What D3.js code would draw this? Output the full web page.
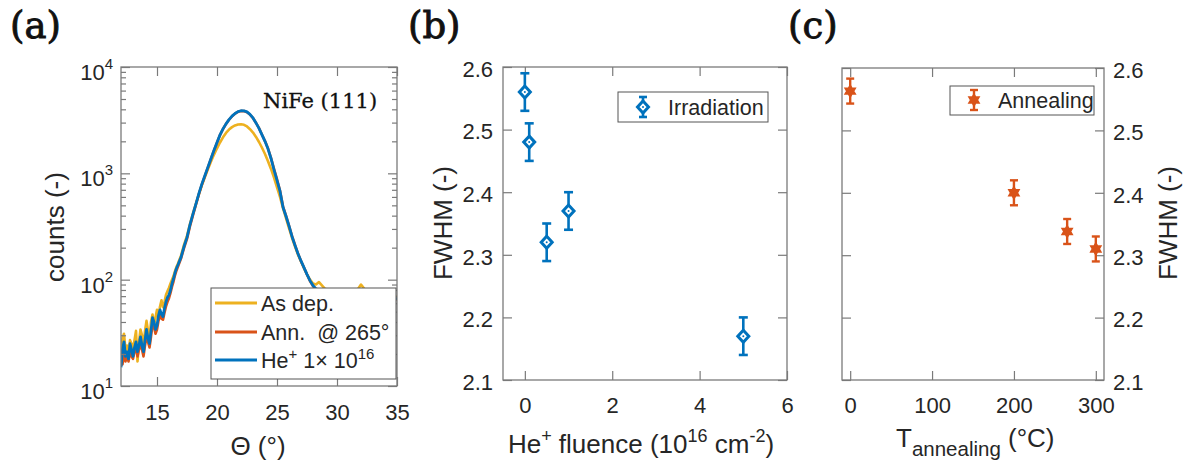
<!DOCTYPE html>
<html><head><meta charset="utf-8">
<script src="https://cdn.jsdelivr.net/npm/d3@7"></script>
<style>body{margin:0;background:#fff;} svg{display:block;font-family:"Liberation Sans",Arial,sans-serif;}</style>
</head><body>
<svg id="c" width="1187" height="465"></svg>
<script>
// ---------- Panel (a) data : XRD NiFe(111) ----------
const theta = [12,12.125,12.25,12.375,12.5,12.625,12.75,12.875,13,13.125,13.25,13.375,13.5,13.625,13.75,13.875,14,14.125,14.25,14.375,14.5,14.625,14.75,14.875,15,15.125,15.25,15.375,15.5,15.625,15.75,15.875,16,16.125,16.25,16.375,16.5,16.625,16.75,16.875,17,
17.25,17.5,17.75,18,18.25,18.5,18.75,19,19.25,19.5,19.75,20,20.25,20.5,20.75,21,21.25,21.5,21.75,22,22.25,22.5,22.75,23,23.25,23.5,23.75,24,24.25,24.5,24.75,25,25.25,25.5,25.75,26,26.25,26.5,26.75,27,27.25,27.5,27.75,28,28.25,28.5,
29,29.5,30,30.5,31,31.5,32,32.5,33,33.5,34,34.5,35];
const countsAsDep = [18,28,31,22,24,20,27,25,22,27,33,17,26,34,30,23,33,41,33,28,40,47,37,44,52,45,56,64,55,62,72,78,84,92,100,108,120,132,142,155,168,
212,258,335,420,520,640,780,930,1100,1290,1500,1720,1950,2180,2400,2580,2720,2820,2880,2890,2860,2760,2600,2420,2200,1970,1740,1520,1300,1100,910,740,600,470,380,305,248,205,172,148,128,112,100,92,90,95,
82,78,80,76,78,74,90,76,77,73,75,71,69];
const countsAnn = [17,16,21,17,19,17,21,19,18,21,23,19,22,25,22,19,24,29,26,23,29,38,36,31,34,41,47,43,42,49,56,62,67,75,86,96,110,122,133,145,158,
198,242,318,405,510,640,790,950,1140,1370,1640,1940,2290,2610,2910,3190,3440,3640,3790,3860,3850,3760,3570,3310,2980,2660,2310,2010,1710,1400,1100,880,690,490,400,322,258,212,176,150,130,112,97,87,81,79,
76,74,75,71,73,69,74,70,72,69,71,67,65];
const countsHe = [15,22,26,19,21,18,25,22,19,23,26,21,24,29,24,21,27,34,28,25,33,44,40,34,37,46,52,47,45,54,62,68,72,80,92,102,116,128,138,150,162,
205,250,330,415,520,650,800,960,1150,1380,1650,1950,2300,2620,2920,3200,3450,3650,3800,3880,3870,3780,3580,3320,2980,2650,2300,2000,1700,1380,1080,860,680,480,395,320,255,210,175,150,130,112,98,88,82,80,
77,75,76,72,74,70,75,71,73,70,72,68,66];
const xTicksA = [15,20,25,30,35];
const yTicksA = [10,100,1000,10000];
const yExpA = ["1","2","3","4"];

// ---------- Panel (b) data : irradiation ----------
const fluence = [0,0.1,0.5,1,5];
const fwhmIrr = [2.56,2.48,2.32,2.37,2.17];
const errIrr = [0.03,0.03,0.03,0.03,0.03];
const xTicksB = [0,2,4,6];

// ---------- Panel (c) data : annealing ----------
const tAnneal = [0,200,265,300];
const fwhmAnn = [2.563,2.40,2.338,2.31];
const errAnn = [0.02,0.02,0.02,0.02];
const xTicksC = [0,100,200,300];

const yTicksFWHM = [2.1,2.2,2.3,2.4,2.5,2.6];

// ---------- styles ----------
const AX = "#7a7a7a", TXT = "#262626";
const BLUE = "#0072BD", ORANGE = "#D95319", YELLOW = "#EDB120";
const FONT = "'Liberation Sans', Arial, sans-serif";
const SERIF = "'DejaVu Serif', 'Liberation Serif', serif";
const TICKFS = 22, LABFS = 26;

const svg = d3.select("#c");
svg.append("rect").attr("width",1187).attr("height",465).attr("fill","#fff");

function styleAxis(g){
  g.attr("font-size",TICKFS).attr("font-family",FONT);
  g.select(".domain").remove();
  g.selectAll(".tick line").attr("stroke",AX).attr("stroke-width",1.2);
  g.selectAll(".tick text").attr("fill",TXT);
}
function box(x0,x1,y0,y1){
  svg.append("rect").attr("x",x0).attr("y",y0).attr("width",x1-x0).attr("height",y1-y0)
    .attr("fill","none").attr("stroke",AX).attr("stroke-width",1.3);
}
function title(x,y,t){
  svg.append("text").attr("x",x).attr("y",y).attr("font-family",SERIF).attr("font-size",37)
    .attr("fill","#111").attr("stroke","#111").attr("stroke-width",0.9).text(t);
}

// ================= Panel (a) =================
const xA = d3.scaleLinear().domain([12,35]).range([121,397]);
const yA = d3.scaleLog().domain([10,1e4]).range([386,67]);
const minorA = yA.ticks().filter(v => !yTicksA.includes(v));

svg.append("clipPath").attr("id","clipA").append("rect").attr("x",121).attr("y",67).attr("width",276).attr("height",319);
const lineA = d3.line().x(d=>xA(d[0])).y(d=>yA(d[1]));
const seriesA = [
  {vals:countsAsDep, color:YELLOW, w:2.6},
  {vals:countsAnn, color:ORANGE, w:2.6},
  {vals:countsHe, color:BLUE, w:2.8}
];
const gCurves = svg.append("g").attr("clip-path","url(#clipA)");
seriesA.forEach(s=>{
  gCurves.append("path").datum(theta.map((t,i)=>[t,s.vals[i]]))
    .attr("d",lineA).attr("fill","none").attr("stroke",s.color)
    .attr("stroke-width",s.w).attr("stroke-linejoin","round");
});

svg.append("g").attr("transform","translate(0,386)")
  .call(d3.axisBottom(xA).tickValues(xTicksA).tickSize(-9).tickPadding(18).tickFormat(d3.format("d"))).call(styleAxis);
svg.append("g").attr("transform","translate(0,67)")
  .call(d3.axisTop(xA).tickValues(xTicksA).tickSize(-9).tickFormat(()=>"")).call(styleAxis);
svg.append("g").attr("transform","translate(121,0)")
  .call(d3.axisLeft(yA).tickValues(yTicksA).tickSize(-9).tickFormat(()=>"")).call(styleAxis);
svg.append("g").attr("transform","translate(121,0)")
  .call(d3.axisLeft(yA).tickValues(minorA).tickSize(-5).tickFormat(()=>"")).call(styleAxis);
svg.append("g").attr("transform","translate(397,0)")
  .call(d3.axisRight(yA).tickValues(yTicksA).tickSize(-9).tickFormat(()=>"")).call(styleAxis);
svg.append("g").attr("transform","translate(397,0)")
  .call(d3.axisRight(yA).tickValues(minorA).tickSize(-5).tickFormat(()=>"")).call(styleAxis);
box(121,397,67,386);

yTicksA.forEach((v,i)=>{
  const t = svg.append("text").attr("x",113).attr("y",yA(v)+13).attr("text-anchor","end")
    .attr("font-family",FONT).attr("font-size",TICKFS).attr("fill",TXT);
  t.append("tspan").text("10");
  t.append("tspan").attr("dy",-11).attr("font-size",15).text(yExpA[i]);
});

svg.append("text").attr("transform","translate(64,227) rotate(-90)").attr("text-anchor","middle")
  .attr("font-family",FONT).attr("font-size",LABFS).attr("fill",TXT).text("counts (-)");
svg.append("text").attr("x",258).attr("y",455).attr("text-anchor","middle")
  .attr("font-family",FONT).attr("font-size",LABFS).attr("fill",TXT).text("Θ (°)");

svg.append("text").attr("x",263).attr("y",108).attr("font-family",SERIF).attr("font-size",21)
  .attr("fill","#111").attr("stroke","#111").attr("stroke-width",0.3).text("NiFe (111)");

// legend (a)
svg.append("rect").attr("x",211).attr("y",288).attr("width",185).attr("height",91)
  .attr("fill","#fff").attr("stroke","#555").attr("stroke-width",1);
const legA = [
  {color:YELLOW, y:303},
  {color:ORANGE, y:332},
  {color:BLUE, y:360}
];
legA.forEach(l=>{
  svg.append("line").attr("x1",215).attr("x2",257).attr("y1",l.y).attr("y2",l.y)
    .attr("stroke",l.color).attr("stroke-width",2.8);
});
function legText(y){ return svg.append("text").attr("x",261).attr("y",y+8).attr("font-family",FONT)
  .attr("font-size",21.5).attr("fill",TXT); }
legText(303).text("As dep.");
legText(332).text("Ann.\u00a0 @ 265°");
{
  const t = legText(360);
  t.append("tspan").text("He");
  t.append("tspan").attr("dy",-9).attr("font-size",15).text("+");
  t.append("tspan").attr("dy",9).text(" 1× 10");
  t.append("tspan").attr("dy",-9).attr("font-size",15).text("16");
}

title(10,38,"(a)");

// ================= Panel (b) =================
const xB = d3.scaleLinear().domain([-0.5,6]).range([503,787]);
const yB = d3.scaleLinear().domain([2.1,2.6]).range([380,67]);

svg.append("g").attr("transform","translate(0,380)")
  .call(d3.axisBottom(xB).tickValues(xTicksB).tickSize(-9).tickPadding(17).tickFormat(d3.format("d"))).call(styleAxis);
svg.append("g").attr("transform","translate(0,67)")
  .call(d3.axisTop(xB).tickValues(xTicksB).tickSize(-9).tickFormat(()=>"")).call(styleAxis);
svg.append("g").attr("transform","translate(503,0)")
  .call(d3.axisLeft(yB).tickValues(yTicksFWHM).tickSize(-9).tickPadding(10).tickFormat(d3.format(".1f"))).call(styleAxis)
  .selectAll(".tick text").attr("dy","0.42em");
svg.append("g").attr("transform","translate(787,0)")
  .call(d3.axisRight(yB).tickValues(yTicksFWHM).tickSize(-9).tickFormat(()=>"")).call(styleAxis);
box(503,787,67,380);

function diamond(g,cx,cy,color){
  g.append("path").attr("d",`M${cx},${cy-6}L${cx+5.5},${cy}L${cx},${cy+6}L${cx-5.5},${cy}Z`)
    .attr("fill","#fff").attr("stroke",color).attr("stroke-width",3);
  g.append("circle").attr("cx",cx).attr("cy",cy).attr("r",1).attr("fill",color);
}
function errbar(g,cx,yTop,yBot,color,cap,w){
  g.append("line").attr("x1",cx).attr("x2",cx).attr("y1",yTop).attr("y2",yBot).attr("stroke",color).attr("stroke-width",w);
  g.append("line").attr("x1",cx-cap).attr("x2",cx+cap).attr("y1",yTop).attr("y2",yTop).attr("stroke",color).attr("stroke-width",w);
  g.append("line").attr("x1",cx-cap).attr("x2",cx+cap).attr("y1",yBot).attr("y2",yBot).attr("stroke",color).attr("stroke-width",w);
}
const gB = svg.append("g");
fluence.forEach((f,i)=>{
  const cx = xB(f);
  errbar(gB,cx,yB(fwhmIrr[i]+errIrr[i]),yB(fwhmIrr[i]-errIrr[i]),BLUE,4.5,2.6);
  diamond(gB,cx,yB(fwhmIrr[i]),BLUE);
});

// legend (b)
svg.append("rect").attr("x",618).attr("y",92).attr("width",150).attr("height",30)
  .attr("fill","#fff").attr("stroke","#555").attr("stroke-width",1);
errbar(svg,643,97,117,BLUE,4,2.6);
diamond(svg,643,107,BLUE);
svg.append("text").attr("x",668).attr("y",115).attr("font-family",FONT).attr("font-size",21.5)
  .attr("fill",TXT).text("Irradiation");

svg.append("text").attr("transform","translate(452,223) rotate(-90)").attr("text-anchor","middle")
  .attr("font-family",FONT).attr("font-size",LABFS).attr("fill",TXT).text("FWHM (-)");
{
  const t = svg.append("text").attr("x",641).attr("y",453).attr("text-anchor","middle")
    .attr("font-family",FONT).attr("font-size",LABFS).attr("fill",TXT);
  t.append("tspan").text("He");
  t.append("tspan").attr("dy",-11).attr("font-size",18).text("+");
  t.append("tspan").attr("dy",11).text(" fluence (10");
  t.append("tspan").attr("dy",-11).attr("font-size",18).text("16");
  t.append("tspan").attr("dy",11).text(" cm");
  t.append("tspan").attr("dy",-11).attr("font-size",18).text("-2");
  t.append("tspan").attr("dy",11).text(")");
}
title(408,38,"(b)");

// ================= Panel (c) =================
const xC = d3.scaleLinear().domain([-10,310]).range([842,1104]);
const yC = d3.scaleLinear().domain([2.1,2.6]).range([380,68]);

svg.append("g").attr("transform","translate(0,380)")
  .call(d3.axisBottom(xC).tickValues(xTicksC).tickSize(-9).tickPadding(17).tickFormat(d3.format("d"))).call(styleAxis);
svg.append("g").attr("transform","translate(0,68)")
  .call(d3.axisTop(xC).tickValues(xTicksC).tickSize(-9).tickFormat(()=>"")).call(styleAxis);
svg.append("g").attr("transform","translate(842,0)")
  .call(d3.axisLeft(yC).tickValues(yTicksFWHM).tickSize(-9).tickFormat(()=>"")).call(styleAxis);
svg.append("g").attr("transform","translate(1104,0)")
  .call(d3.axisRight(yC).tickValues(yTicksFWHM).tickSize(-9).tickPadding(9).tickFormat(d3.format(".1f"))).call(styleAxis)
  .selectAll(".tick text").attr("dy","0.42em");
box(842,1104,68,380);

function hexagram(g,cx,cy,R,color){
  const pts = d3.range(12).map(k=>{
    const a = (-90 + k*30)*Math.PI/180, r = k%2===0 ? R : R/Math.sqrt(3);
    return [cx + r*Math.cos(a), cy + r*Math.sin(a)];
  });
  g.append("path").attr("d","M"+pts.map(p=>p.join(",")).join("L")+"Z")
    .attr("fill",color).attr("stroke",color).attr("stroke-width",1.4).attr("stroke-linejoin","miter");
}
const gC = svg.append("g");
tAnneal.forEach((t,i)=>{
  const cx = xC(t);
  errbar(gC,cx,yC(fwhmAnn[i]+errAnn[i]),yC(fwhmAnn[i]-errAnn[i]),ORANGE,4,2.4);
  hexagram(gC,cx,yC(fwhmAnn[i]),6,ORANGE);
});

// legend (c)
svg.append("rect").attr("x",950).attr("y",86).attr("width",144).attr("height",29)
  .attr("fill","#fff").attr("stroke","#555").attr("stroke-width",1);
errbar(svg,974,90,110,ORANGE,4,2.4);
hexagram(svg,974,100,6,ORANGE);
svg.append("text").attr("x",998).attr("y",108).attr("font-family",FONT).attr("font-size",21.5)
  .attr("fill",TXT).text("Annealing");

svg.append("text").attr("transform","translate(1177,223) rotate(-90)").attr("text-anchor","middle")
  .attr("font-family",FONT).attr("font-size",LABFS).attr("fill",TXT).text("FWHM (-)");
{
  const t = svg.append("text").attr("x",896).attr("y",447)
    .attr("font-family",FONT).attr("font-size",LABFS).attr("fill",TXT);
  t.append("tspan").text("T");
  t.append("tspan").attr("dy",9).attr("font-size",20.5).text("annealing");
  t.append("tspan").attr("dy",-9).text(" (°C)");
}
title(788,38,"(c)");
</script>
</body></html>
